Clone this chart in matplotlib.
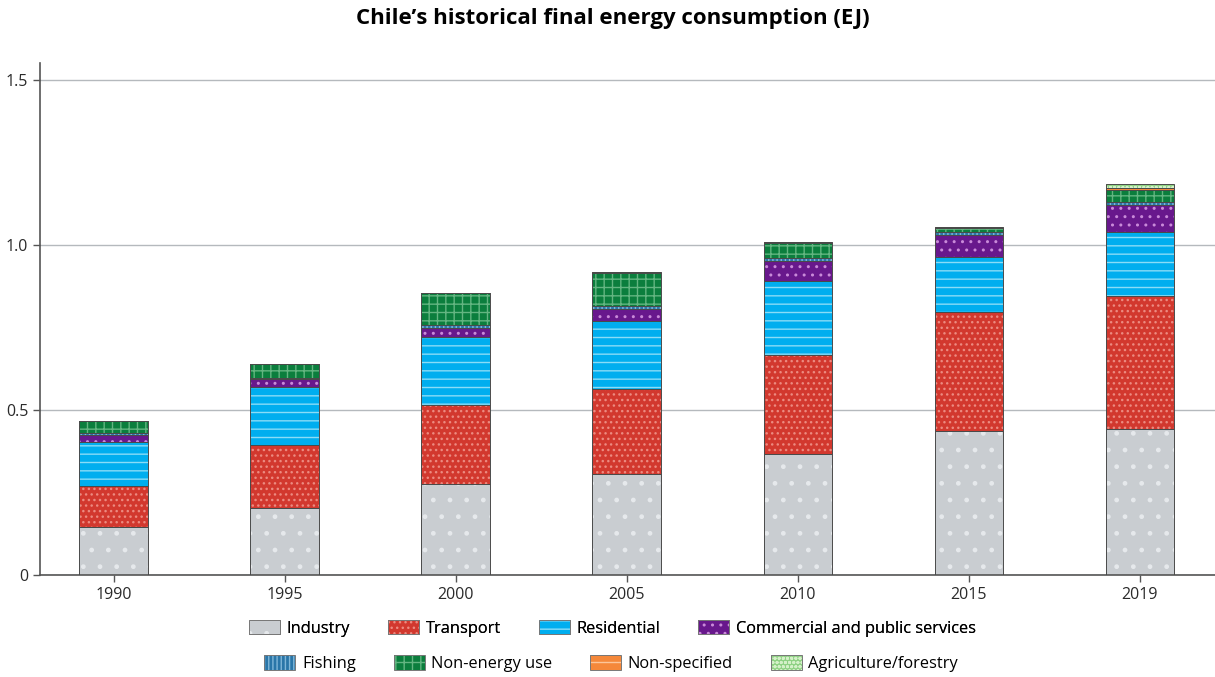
import numpy as np
import matplotlib
matplotlib.use('Agg')
import matplotlib.pyplot as plt
from matplotlib.patches import Patch

plt.rcParams['font.family'] = ['Open Sans', 'DejaVu Sans']
plt.rcParams['hatch.linewidth'] = 1.0

# Data (EJ)
years = ['1990', '1995', '2000', '2005', '2010', '2015', '2019']
industry = [0.145, 0.204, 0.276, 0.306, 0.366, 0.437, 0.441]
transport = [0.124, 0.191, 0.239, 0.258, 0.301, 0.358, 0.404]
residential = [0.135, 0.173, 0.205, 0.206, 0.222, 0.167, 0.195]
commercial = [0.020, 0.025, 0.028, 0.036, 0.061, 0.068, 0.081]
fishing = [0.005, 0.003, 0.010, 0.010, 0.010, 0.008, 0.010]
non_energy = [0.038, 0.043, 0.096, 0.098, 0.045, 0.012, 0.036]
non_specified = [0.000, 0.000, 0.000, 0.005, 0.002, 0.003, 0.005]
agriculture = [0.000, 0.000, 0.000, 0.000, 0.000, 0.000, 0.013]

series = [industry, transport, residential, commercial,
          fishing, non_energy, non_specified, agriculture]
names = ['Industry', 'Transport', 'Residential', 'Commercial and public services',
         'Fishing', 'Non-energy use', 'Non-specified', 'Agriculture/forestry']
# face colour, hatch colour, hatch pattern
styles = [
    ('#c9cdd1', '#e6e9ec', '.'),
    ('#d2382e', '#ec8a80', '...'),
    ('#00aeef', '#8adcf7', '--'),
    ('#68188c', '#c98ad9', '..'),
    ('#2a76a8', '#7fb6d8', '||||'),
    ('#0b7e3d', '#63b581', '++'),
    ('#f5883a', '#fcc69a', '--'),
    ('#8fd184', '#d4f0c8', 'oooo'),
]

fig = plt.figure(figsize=(12.15, 6.77), dpi=100)
ax = fig.add_axes([0.033, 0.1507, 0.967, 0.756])

x = np.arange(len(years))
width = 0.40
bottom = np.zeros(len(years))
handles = []
for vals, name, (fc, hc, hatch) in zip(series, names, styles):
    vals = np.array(vals)
    ax.bar(x, vals, width, bottom=bottom, color=fc, edgecolor=hc,
           hatch=hatch, linewidth=0, zorder=2)
    ax.bar(x, vals, width, bottom=bottom, fill=False, edgecolor='#4a4a4a',
           linewidth=0.7, zorder=3)
    bottom = bottom + vals
    handles.append((Patch(facecolor=fc, edgecolor=hc, hatch=hatch, linewidth=0),
                    Patch(fill=False, edgecolor='#777777', linewidth=0.7)))

ax.set_ylim(0, 1.55)
ax.set_xlim(-0.43, 6.44)
ax.set_yticks([0, 0.5, 1.0, 1.5])
ax.set_yticklabels(['0', '0.5', '1.0', '1.5'])
ax.set_xticks(x)
ax.set_xticklabels(years)
ax.grid(axis='y', color='#b5b9bd', linewidth=1.0, zorder=0)
ax.set_axisbelow(True)
for s in ['top', 'right']:
    ax.spines[s].set_visible(False)
for s in ['left', 'bottom']:
    ax.spines[s].set_color('#555555')
    ax.spines[s].set_linewidth(1.2)
ax.tick_params(axis='both', colors='#555555', labelcolor='#2a2a2a',
               labelsize=11.5, length=5, width=1)

fig.suptitle('Chile\u2019s historical final energy consumption (EJ)',
             fontsize=16, fontweight='bold', x=0.504, y=0.988)

leg_kw = dict(ncol=4, frameon=False, fontsize=11.8, handlelength=1.9,
              handleheight=1.0, handletextpad=0.4, columnspacing=2.3)
leg1 = fig.legend(handles[:4], names[:4], loc='center', bbox_to_anchor=(0.504, 0.072), **leg_kw)
fig.add_artist(leg1)
fig.legend(handles[4:], names[4:], loc='center', bbox_to_anchor=(0.503, 0.020), **leg_kw)

fig.savefig('out.png', dpi=100)
